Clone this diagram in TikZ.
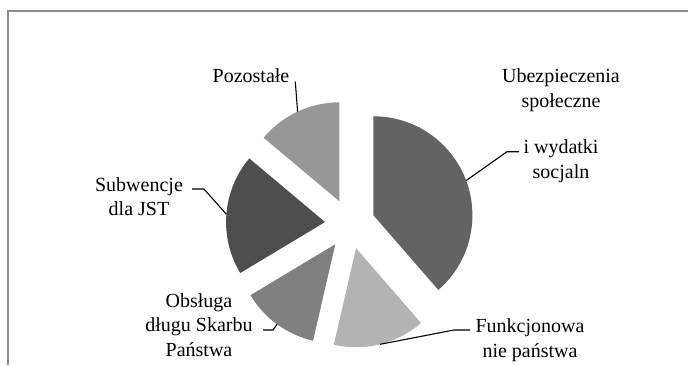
\documentclass[tikz,border=0pt]{standalone}
\usepackage{fontspec}
\setmainfont{Liberation Serif}
\usepackage{xcolor}
\usepackage{tikz}
\usetikzlibrary{calc}
\definecolor{frameGray}{RGB}{140,140,140}
\definecolor{sliceSocial}{RGB}{99,99,99}
\definecolor{sliceOther}{RGB}{151,151,151}
\definecolor{sliceJST}{RGB}{78,78,78}
\definecolor{sliceDebt}{RGB}{128,128,128}
\definecolor{sliceState}{RGB}{179,179,179}
\tikzset{
  pielabel/.style={align=center, inner sep=0pt, text=black,
    font=\fontsize{20}{24.5}\selectfont},
  leader/.style={draw=black, line width=1.1pt, line join=miter}
}

\begin{document}
\begin{tikzpicture}[x=1pt,y=1pt]
  \useasboundingbox (0,0) rectangle (688,365);
  \draw[frameGray, line width=1.6pt] (8,0) -- (8,354) -- (688,354);
  \coordinate (c) at (350,141);
  % exploded slices, each pushed out 25pt along its middle
  \fill[sliceSocial] ($(c)+(20.5:25)$) -- ++(-49:99)
    arc[start angle=-49, end angle=90, radius=99] -- cycle;
  \fill[sliceOther] ($(c)+(115:25)$) -- ++(90:99)
    arc[start angle=90, end angle=140, radius=99] -- cycle;
  \fill[sliceJST] ($(c)+(175.5:25)$) -- ++(140:99)
    arc[start angle=140, end angle=211, radius=99] -- cycle;
  \fill[sliceDebt] ($(c)+(234:25)$) -- ++(211:99)
    arc[start angle=211, end angle=257, radius=99] -- cycle;
  \fill[sliceState] ($(c)+(284:25)$) -- ++(257:99)
    arc[start angle=257, end angle=311, radius=99] -- cycle;
  % labels
  \node[pielabel] (other) at (251,289) {Pozostałe};
  \node[pielabel] (socialTop) at (561,275) {Ubezpieczenia\\społeczne};
  \node[pielabel] (social) at (561,204) {i wydatki\\socjaln};
  \node[pielabel] (jst) at (139,168.5) {Subwencje\\dla JST};
  \node[pielabel] (debt) at (199,40) {Obsługa\\długu Skarbu\\Państwa};
  \node[pielabel] (state) at (530,25) {Funkcjonowa\\nie państwa};
  % leader ends
  \coordinate (otherArc) at ($(c)+(115:124)$);
  \coordinate (otherEnd) at (295.3,283.3);
  \coordinate (socialArc) at ($(c)+(20.5:124)$);
  \coordinate (socialBend) at (507,213.3);
  \coordinate (socialEnd) at (519,213.3);
  \coordinate (jstArc) at ($(c)+(175.5:124)$);
  \coordinate (jstBend) at (204,176);
  \coordinate (jstEnd) at (192,176);
  \coordinate (debtArc) at ($(c)+(234:124)$);
  \coordinate (debtBend) at (273,35);
  \coordinate (debtEnd) at (263,35);
  \coordinate (stateArc) at ($(c)+(284:124)$);
  \coordinate (stateBend) at (454,35);
  \coordinate (stateEnd) at (470,35);
  \draw[leader] (otherArc) -- (otherEnd);
  \draw[leader] (socialArc) -- (socialBend) -- (socialEnd);
  \draw[leader] (jstArc) -- (jstBend) -- (jstEnd);
  \draw[leader] (debtArc) -- (debtBend) -- (debtEnd);
  \draw[leader] (stateArc) -- (stateBend) -- (stateEnd);
\end{tikzpicture}
\end{document}
